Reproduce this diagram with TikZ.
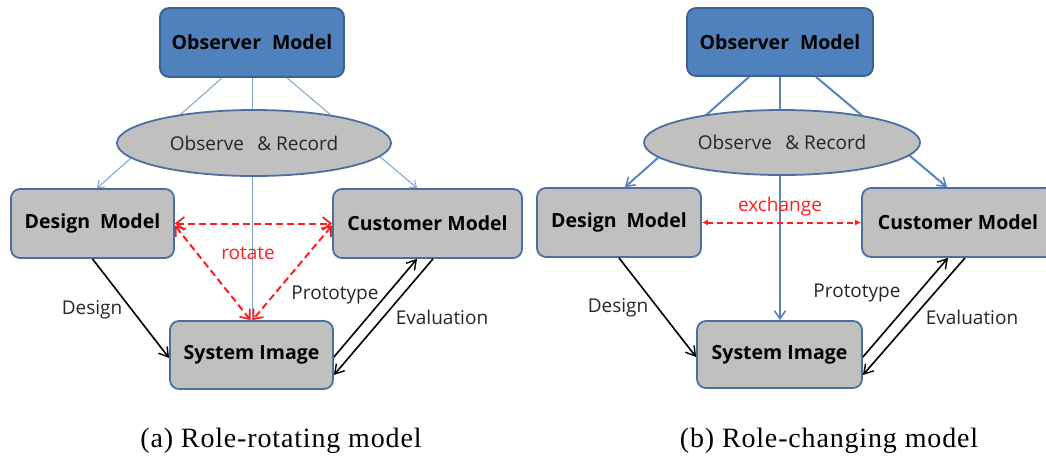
\documentclass[tikz,border=0pt]{standalone}
\usepackage{fontspec}
\setmainfont{Liberation Serif}
\newfontfamily\labfont{Open Sans}
\usetikzlibrary{arrows.meta,shapes.geometric,calc}

\definecolor{boxgray}{HTML}{C0C0C0}
\definecolor{boxedge}{HTML}{4A70A2}
\definecolor{obsfill}{HTML}{4F81BD}
\definecolor{obsedge}{HTML}{3C6090}
\definecolor{thinblue}{HTML}{7EA2CE}
\definecolor{linkblue}{HTML}{5584BE}
\definecolor{linkred}{HTML}{FF1E1E}
\definecolor{labgray}{HTML}{262626}

\tikzset{
  modelbox/.style={draw=boxedge, line width=1.8pt, fill=boxgray, rounded corners=9pt,
    minimum width=163pt, minimum height=69pt, inner sep=0pt,
    font=\labfont\fontsize{19.5}{24}\selectfont\bfseries, text=black},
  obsbox/.style={modelbox, fill=obsfill, draw=obsedge, minimum width=184pt},
  recellipse/.style={ellipse, draw=boxedge, line width=1.8pt, fill=boxgray,
    minimum width=274pt, minimum height=66pt, inner sep=0pt,
    font=\labfont\fontsize{19}{24}\selectfont, text=labgray},
  edgelabel/.style={font=\labfont\fontsize{19}{24}\selectfont, text=labgray, inner sep=0pt},
  redlabel/.style={font=\labfont\fontsize{19}{24}\selectfont, text=linkred, inner sep=0pt},
  caption/.style={font=\fontsize{28}{32}\selectfont\addfontfeature{LetterSpace=3}, inner sep=0pt},
  thinlink/.style={draw=thinblue, line width=1pt},
  bluelink/.style={draw=linkblue, line width=2pt, -{Straight Barb[length=8pt,width=11pt,line width=1.6pt]}},
  flowlink/.style={draw=black, line width=1.6pt, -{Straight Barb[length=9pt,width=11pt,line width=1.4pt]}},
  rotlink/.style={draw=linkred, line width=2pt, dash pattern=on 7pt off 4pt,
    {Straight Barb[length=8pt,width=13pt,line width=1.8pt]}-{Straight Barb[length=8pt,width=13pt,line width=1.8pt]}},
  swaplink/.style={draw=linkred, line width=2pt, dash pattern=on 6pt off 4pt,
    {Latex[length=6pt,width=6pt]}-{Latex[length=6pt,width=6pt]}}
}

\begin{document}
\begin{tikzpicture}[x=1pt,y=-1pt]
\useasboundingbox (0,0) rectangle (1046,459);
\clip (0,0) rectangle (1046,459);

% ---------- (a) role-rotating model ----------
\node[obsbox] (obsA) at (252,42.5) {Observer\hspace{0.3em} Model};
\node[modelbox] (desA) at (92.5,223.5) {Design\hspace{0.25em} Model};
\node[modelbox, minimum width=189pt] (cusA) at (427.5,223.5) {Customer Model};
\node[modelbox, minimum height=68pt] (sysA) at (251.5,355) {System Image};

% observation lines pass behind the ellipse
\draw[thinlink, -{Straight Barb[length=6pt,width=9pt,line width=1pt]}]
  ([xshift=-30pt]obsA.south) -- ([xshift=4.5pt]desA.north);
\draw[thinlink, -{Straight Barb[length=6pt,width=9pt,line width=1pt]}]
  ([xshift=35pt]obsA.south) -- ([xshift=-10.5pt]cusA.north);
\draw[thinlink] (obsA.south) -- (obsA.south |- sysA.north);

\node[recellipse] (recA) at (254,143) {Observe\hspace{0.45em} \& Record};

% role rotation between the three models
\draw[rotlink] (desA.east) -- (cusA.west);
\draw[rotlink] ([yshift=-2pt]desA.east) -- ([xshift=-1pt]sysA.north);
\draw[rotlink] ([yshift=-2pt]cusA.west) -- ([xshift=1pt]sysA.north);
\node[redlabel] (rotA) at (248,253) {rotate};

% design / prototype / evaluation flow
\draw[flowlink] (desA.south) -- ([yshift=-3pt]sysA.west);
\draw[flowlink] ([yshift=-2pt]sysA.east) -- ([xshift=-10.5pt]cusA.south);
\draw[flowlink] ([xshift=5.5pt]cusA.south) -- ([yshift=-20pt]sysA.east);
\node[edgelabel] (lblDesA) at (92,310) {Design};
\node[edgelabel] (lblProA) at (335,295) {Prototype};
\node[edgelabel] (lblEvaA) at (442,317) {Evaluation};

\node[caption] (capA) at (281,441) {(a) Role-rotating model};

% ---------- (b) role-changing model ----------
\node[obsbox, minimum width=186pt, minimum height=68pt] (obsB) at (780,42) {Observer\hspace{0.3em} Model};
\node[modelbox, minimum width=164pt] (desB) at (619,222.5) {Design\hspace{0.25em} Model};
\node[modelbox, minimum width=192pt] (cusB) at (958,222.5) {Customer Model};
\node[modelbox, minimum width=165pt, minimum height=67pt] (sysB) at (779.5,354.5) {System Image};

\draw[bluelink] ([xshift=-31pt]obsB.south) -- ([xshift=6pt]desB.north);
\draw[bluelink] ([xshift=36pt]obsB.south) -- ([xshift=-11pt]cusB.north);
\draw[bluelink] (obsB.south) -- (obsB.south |- sysB.north);

\node[recellipse, minimum width=276pt, minimum height=65pt] (recB) at (782,142.5) {Observe\hspace{0.45em} \& Record};

% role exchange between designer and customer
\draw[swaplink] (desB.east) -- (cusB.west);
\node[redlabel] (excB) at (780,207) {exchange};

\draw[flowlink] (desB.south) -- ([yshift=-2.5pt]sysB.west);
\draw[flowlink] ([yshift=-2.5pt]sysB.east) -- ([xshift=-10pt]cusB.south);
\draw[flowlink] ([xshift=7pt]cusB.south) -- ([yshift=-20.5pt]sysB.east);
\node[edgelabel] (lblDesB) at (618,308) {Design};
\node[edgelabel] (lblProB) at (857,293) {Prototype};
\node[edgelabel] (lblEvaB) at (972,317) {Evaluation};

\node[caption] (capB) at (829,441) {(b) Role-changing model};
\end{tikzpicture}
\end{document}
